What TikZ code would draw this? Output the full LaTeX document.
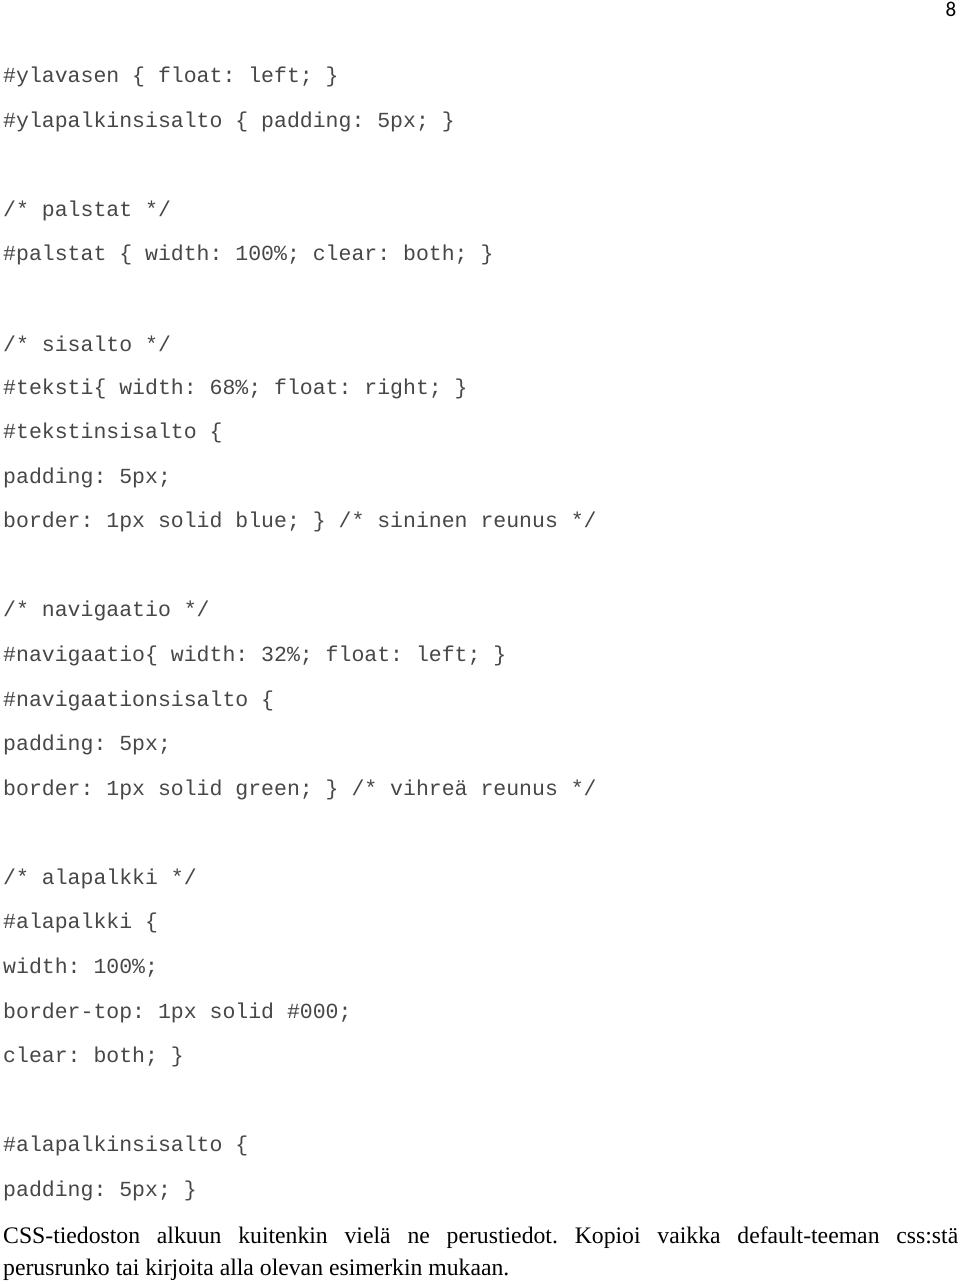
\documentclass[tikz,border=0pt]{standalone}
\usepackage{fontspec}
\setmainfont{Liberation Serif}
\setmonofont{Liberation Mono}
\setsansfont{Carlito}
\begin{document}
\begin{tikzpicture}[x=1pt,y=-1pt,
  codeline/.style={anchor=west,inner sep=0pt,text=black!72,font=\ttfamily\fontsize{21.5}{24}\selectfont},
  prose/.style={anchor=north west,inner sep=0pt,text width=955pt,align=justify,font=\fontsize{23.7}{32}\selectfont\frenchspacing}]
\useasboundingbox (0,0) rectangle (960,1284);
\node[anchor=center,inner sep=0pt,font=\sffamily\fontsize{21}{22}\selectfont] (pagenum) at (951,9) {8};
% ylapalkki
\node[codeline] (l1) at (3,77) {\#ylavasen \{ float: left; \}};
\node[codeline] (l2) at (3,122) {\#ylapalkinsisalto \{ padding: 5px; \}};
% palstat
\node[codeline] (l3) at (3,211) {/* palstat */};
\node[codeline] (l4) at (3,255) {\#palstat \{ width: 100\%; clear: both; \}};
% sisalto
\node[codeline] (l5) at (3,344) {/* sisalto */};
\node[codeline] (l6) at (3,389) {\#teksti\{ width: 68\%; float: right; \}};
\node[codeline] (l7) at (3,433) {\#tekstinsisalto \{};
\node[codeline] (l8) at (3,478) {padding: 5px;};
\node[codeline] (l9) at (3,522) {border: 1px solid blue; \} /* sininen reunus */};
% navigaatio
\node[codeline] (l10) at (3,611) {/* navigaatio */};
\node[codeline] (l11) at (3,656) {\#navigaatio\{ width: 32\%; float: left; \}};
\node[codeline] (l12) at (3,701) {\#navigaationsisalto \{};
\node[codeline] (l13) at (3,745) {padding: 5px;};
\node[codeline] (l14) at (3,790) {border: 1px solid green; \} /* vihreä reunus */};
% alapalkki
\node[codeline] (l15) at (3,879) {/* alapalkki */};
\node[codeline] (l16) at (3,923) {\#alapalkki \{};
\node[codeline] (l17) at (3,968) {width: 100\%;};
\node[codeline] (l18) at (3,1013) {border-top: 1px solid \#000;};
\node[codeline] (l19) at (3,1057) {clear: both; \}};
\node[codeline] (l20) at (3,1146) {\#alapalkinsisalto \{};
\node[codeline] (l21) at (3,1191) {padding: 5px; \}};
% lopputeksti
\node[prose] (note) at (3,1227) {CSS-tiedoston alkuun kuitenkin vielä ne perustiedot. Kopioi vaikka default-teeman css:stä\linebreak perusrunko tai kirjoita alla olevan esimerkin mukaan.};
\end{tikzpicture}
\end{document}
